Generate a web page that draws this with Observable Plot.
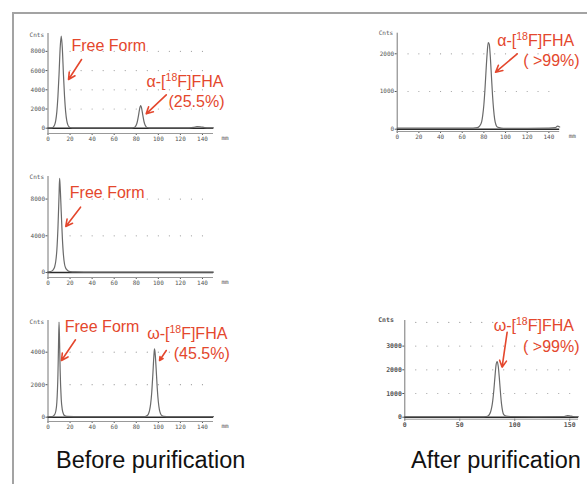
<!DOCTYPE html>
<html><head><meta charset="utf-8">
<script src="https://cdn.jsdelivr.net/npm/d3@7"></script>
<script src="https://cdn.jsdelivr.net/npm/@observablehq/plot@0.6"></script>
<style>
html,body{margin:0;padding:0;background:#fff;}
#root{position:relative;width:587px;height:484px;overflow:hidden;background:#fff;}
#root svg{position:absolute;left:0;top:0;}
.frame{position:absolute;left:12px;top:12px;width:600px;height:500px;border-left:2.5px solid #a3a3a3;border-top:2.5px solid #a3a3a3;}
.cap{position:absolute;font-family:"Liberation Sans",Arial,sans-serif;font-size:23.5px;line-height:1;color:#111;white-space:nowrap;}
</style></head><body><div id="root"><div class="frame"></div></div>
<script>
// ---------- data: [mm, Cnts] ----------
const traceBeforeAlpha = [[0,30],[2,30],[4,60],[5,150],[6,350],[7,800],[8,1700],[9,3300],[10,5600],[11,8300],[12,9600],[13,8300],[14,5600],[15,3300],[16,1700],[17,800],[18,350],[19,150],[20,70],[22,40],[30,40],[40,30],[50,30],[60,30],[70,30],[76,30],[78,70],[79,150],[80,330],[81,700],[82,1300],[83,2000],[84,2360],[85,2000],[86,1300],[87,700],[88,330],[89,150],[90,70],[92,40],[100,30],[110,30],[120,30],[128,40],[132,90],[135,180],[138,150],[142,60],[146,30],[150,30]];
const traceBeforeFree = [[0,60],[2,100],[4,200],[5,350],[6,600],[7,1200],[8,2400],[9,4800],[10,8400],[10.5,10250],[11,9400],[12,6600],[13,3800],[14,1900],[15,900],[16,500],[17,300],[18,200],[20,100],[25,70],[40,50],[60,50],[80,40],[100,40],[120,40],[150,40]];
const traceBeforeOmega = [[0,30],[4,40],[5,80],[6,160],[7,350],[8,900],[9,2600],[9.5,4300],[10,5850],[10.5,4600],[11,2900],[12,1100],[13,450],[14,200],[15,100],[17,50],[30,30],[60,30],[85,30],[88,40],[90,100],[91,200],[92,400],[93,800],[94,1500],[95,2600],[96,3800],[96.5,4200],[97,4000],[98,3000],[99,1800],[100,950],[101,450],[102,220],[103,110],[105,50],[110,30],[130,30],[150,30]];
const traceAfterAlpha = [[0,30],[20,30],[40,30],[60,30],[70,30],[74,40],[76,80],[78,200],[79,380],[80,650],[81,1050],[82,1550],[83,2000],[84,2300],[85,2250],[86,1900],[87,1400],[88,900],[89,520],[90,260],[91,130],[92,70],[94,40],[98,25],[120,25],[140,30],[146,40],[148,80],[150,60]];
const traceAfterOmega = [[0,20],[30,20],[60,20],[70,20],[74,30],[76,60],[77,120],[78,220],[79,400],[80,700],[81,1150],[82,1700],[83,2200],[84,2350],[85,2150],[86,1650],[87,1050],[88,550],[89,250],[90,110],[92,50],[96,30],[120,20],[145,30],[148,70],[150,60],[153,30],[158,20]];

// tick labels
const xTicksMm = [0,20,40,60,80,100,120,140];
const xTicksWide = [0,50,100,150];
const yTicksBeforeAlpha = [0,2000,4000,6000,8000];
const yTicksBeforeFree = [0,4000,8000];
const yTicksBeforeOmega = [0,2000,4000];
const yTicksAfterAlpha = [0,1000,2000];
const yTicksAfterOmega = [0,1000,2000,3000];

// annotation labels (mm, Cnts)
const labelsBeforeAlpha = [{x:21.3,y:8615,t:"Free Form"},{x:89.3,y:4865,t:"α-[18F]FHA"},{x:109.2,y:2781,t:"(25.5%)"}];
const arrowsBeforeAlpha = [{x1:30.4,y1:7156,x2:18.6,y2:5073},{x1:107.2,y1:3479,x2:89,y2:1500}];
const labelsBeforeFree = [{x:19.8,y:8643,t:"Free Form"}];
const arrowsBeforeFree = [{x1:29.5,y1:7117,x2:16.1,y2:5014}];
const labelsBeforeOmega = [{x:15.2,y:5538,t:"Free Form"},{x:89.9,y:5132,t:"ω-[18F]FHA"},{x:114,y:3901,t:"(45.5%)"}];
const arrowsBeforeOmega = [{x1:24.9,y1:4763,x2:12.2,y2:3489},{x1:107.2,y1:4105,x2:101.1,y2:3489}];
const labelsAfterAlpha = [{x:92.3,y:2353,t:"α-[18F]FHA"},{x:116.3,y:1822,t:"( >99%)"}];
const arrowsAfterAlpha = [{x1:110.8,y1:2000,x2:90.8,y2:1512}];
const labelsAfterOmega = [{x:80.9,y:3869,t:"ω-[18F]FHA"},{x:107.6,y:2983,t:"( >99%)"}];
const arrowsAfterOmega = [{x1:93.1,y1:3586,x2:88.5,y2:2110}];

const captions = [{t:"Before purification", left:56, top:449},{t:"After purification", left:411, top:449}];

const RED = "#e4472d";
const W = 587, H = 484;
const root = document.getElementById("root");

function panel(o) {
  const data = o.trace.map(([mm, c]) => ({mm, c}));
  const dots = o.gridY.flatMap(y => o.gridX.map(x => ({x, y})));
  const svg = Plot.plot({
    width: W, height: H,
    marginLeft: o.m[0], marginRight: o.m[1], marginTop: o.m[2], marginBottom: o.m[3],
    x: {domain: o.xDomain, ticks: o.xTicks, tickSize: 2, tickPadding: 1, tickFormat: "d", label: null},
    y: {domain: o.yDomain, ticks: o.yTicks, tickSize: 2, tickPadding: 1, tickFormat: "d", label: null},
    style: {fontFamily: "'DejaVu Sans Mono', monospace", fontSize: o.fs + "px", color: "#555", background: "transparent", fontWeight: o.bold ? "bold" : "normal"},
    marks: [
      Plot.dot(dots, {x: "x", y: "y", r: 0.6, fill: "#9a9a9a", stroke: null}),
      Plot.ruleY([o.yDomain[0]], {stroke: "#999", strokeWidth: 1}),
      Plot.ruleX([o.xDomain[0]], {stroke: "#777", strokeWidth: 1}),
      Plot.ruleY([0], {stroke: "#2a2a2a", strokeWidth: 1.6}),
      Plot.line(data, {x: "mm", y: "c", stroke: "#6a6a6a", strokeWidth: 1.2, curve: "monotone-x"}),
      Plot.text(["Cnts"], {frameAnchor: "top-left", textAnchor: "end", dx: o.cntsDx, dy: o.cntsDy, fill: "#555"}),
      o.mm ? Plot.text(["mm"], {frameAnchor: "bottom-right", textAnchor: "start", dx: o.mmDx, dy: 6, fill: "#555"}) : null,
      Plot.arrow(o.arrows, {x1: "x1", y1: "y1", x2: "x2", y2: "y2", stroke: RED, strokeWidth: 1.6, headLength: 7, headAngle: 55}),
      Plot.text(o.labels, {x: "x", y: "y", text: "t", textAnchor: "start", lineAnchor: "middle", fill: RED, fontSize: 16, fontFamily: "'Liberation Sans', Arial, sans-serif", fontWeight: "normal"})
    ]
  });
  // superscript the isotope mass number
  const ns = "http://www.w3.org/2000/svg";
  for (const t of svg.querySelectorAll("text")) {
    const s = t.textContent;
    if (s.includes("[18F]")) {
      const [pre, post] = s.split("18");
      t.textContent = "";
      t.append(pre);
      const sup = document.createElementNS(ns, "tspan");
      sup.setAttribute("font-size", "10.5"); sup.setAttribute("dy", "-6"); sup.textContent = "18";
      const rest = document.createElementNS(ns, "tspan");
      rest.setAttribute("dy", "6"); rest.textContent = post;
      t.append(sup, rest);
    }
  }
  root.appendChild(svg);
}

// Before purification, α
panel({trace: traceBeforeAlpha, xDomain: [0,150], yDomain: [-550, 9860], xTicks: xTicksMm, yTicks: yTicksBeforeAlpha,
  gridX: d3.range(20, 141, 10), gridY: yTicksBeforeAlpha.slice(1), m: [47.5, 374, 33, 351], fs: 6,
  cntsDx: -4, cntsDy: -1, mm: true, mmDx: 8, labels: labelsBeforeAlpha, arrows: arrowsBeforeAlpha});
// Before purification, free form only
panel({trace: traceBeforeFree, xDomain: [0,150], yDomain: [-545, 10460], xTicks: xTicksMm, yTicks: yTicksBeforeFree,
  gridX: d3.range(20, 141, 10), gridY: yTicksBeforeFree.slice(1), m: [47.5, 374, 176, 207], fs: 6,
  cntsDx: -4, cntsDy: -2, mm: true, mmDx: 8, labels: labelsBeforeFree, arrows: arrowsBeforeFree});
// Before purification, ω
panel({trace: traceBeforeOmega, xDomain: [0,150], yDomain: [-265, 5950], xTicks: xTicksMm, yTicks: yTicksBeforeOmega,
  gridX: d3.range(20, 141, 10), gridY: yTicksBeforeOmega.slice(1), m: [47.5, 374, 320, 63], fs: 6,
  cntsDx: -4, cntsDy: -1, mm: true, mmDx: 8, labels: labelsBeforeOmega, arrows: arrowsBeforeOmega});
// After purification, α
panel({trace: traceAfterAlpha, xDomain: [0,150], yDomain: [-61, 2546], xTicks: xTicksMm, yTicks: yTicksAfterAlpha,
  gridX: d3.range(10, 141, 10), gridY: yTicksAfterAlpha.slice(1), m: [396.7, 27.8, 32.7, 353], fs: 6,
  cntsDx: -4, cntsDy: -2, mm: true, mmDx: 9, labels: labelsAfterAlpha, arrows: arrowsAfterAlpha});
// After purification, ω
panel({trace: traceAfterOmega, xDomain: [0,158], yDomain: [-84, 4080], xTicks: xTicksWide, yTicks: yTicksAfterOmega,
  gridX: d3.range(10, 151, 10), gridY: [1000,2000,3000,4000], m: [404.3, 9, 320, 65.3], fs: 6.5, bold: true,
  cntsDx: -11, cntsDy: -3, mm: false, labels: labelsAfterOmega, arrows: arrowsAfterOmega});

for (const c of captions) {
  const d = document.createElement("div");
  d.className = "cap"; d.textContent = c.t;
  d.style.left = c.left + "px"; d.style.top = c.top + "px";
  root.appendChild(d);
}
</script></body></html>
